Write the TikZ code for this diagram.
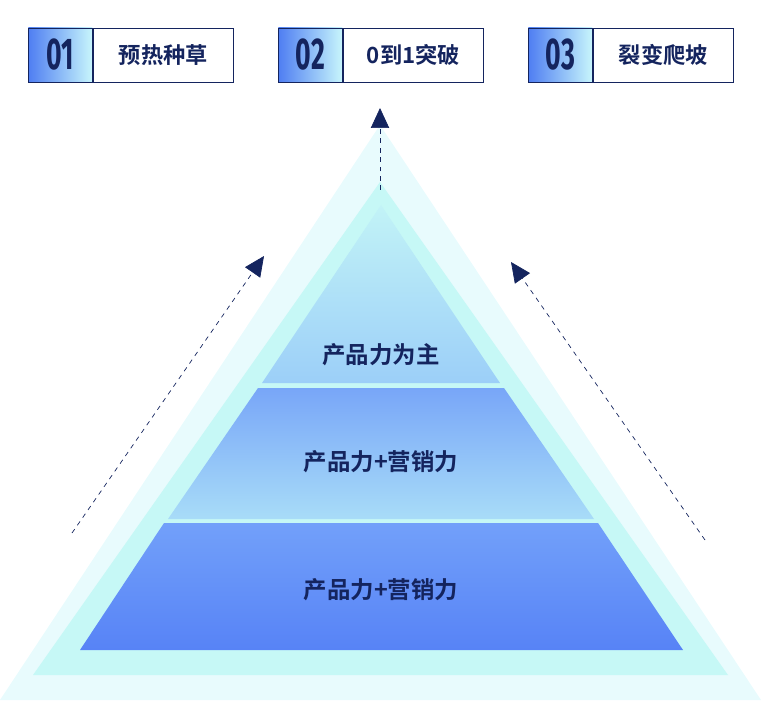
\documentclass[tikz,border=0pt]{standalone}
\usepackage{fontspec}
\newfontfamily\cjk{Noto Sans CJK SC}[BoldFont={Noto Sans CJK SC Bold}]
\newfontfamily\numfont{Fira Sans}
\usetikzlibrary{arrows.meta}
\definecolor{navy}{HTML}{14245E}
\definecolor{outerc}{HTML}{E8FBFD}
\definecolor{midc}{HTML}{C6F8F6}
\definecolor{lowtop}{HTML}{72A0FA}
\definecolor{lowbot}{HTML}{5783F6}
\definecolor{midtop}{HTML}{78A6F8}
\definecolor{midbot}{HTML}{A8DCF8}
\definecolor{toptop}{HTML}{C2F3F7}
\definecolor{topbot}{HTML}{9CCFF8}
\definecolor{numl}{HTML}{4F7EF2}
\definecolor{numr}{HTML}{C8F6FC}
\tikzset{
  numbox/.style={rectangle, draw=navy, line width=0.8pt, minimum height=1.62cm, minimum width=1.92cm, anchor=west, inner sep=0, left color=numl, right color=numr},
  namebox/.style={rectangle, draw=navy, line width=0.8pt, fill=white, minimum height=1.62cm, minimum width=4.2cm, anchor=west, inner sep=0},
  lvl/.style={font=\cjk\bfseries\fontsize{20}{22}\selectfont, text=navy},
  climb/.style={draw=navy, dashed, dash pattern=on 4pt off 4pt, line width=0.6pt, -{Triangle[length=0.6cm,width=0.55cm]}}
}
\begin{document}
\begin{tikzpicture}[x=0.03cm,y=-0.03cm]
    \useasboundingbox (0,0) rectangle (761,711);
    % pyramid layers
    \fill[outerc] (380,125) -- (761,700) -- (0,700) -- cycle;
    \fill[midc] (380,182) -- (728,675) -- (33,675) -- cycle;
    \shade[top color=toptop, bottom color=topbot] (381,205) -- (500,383) -- (262,383) -- cycle;
    \shade[top color=midtop, bottom color=midbot] (258,388) -- (504,388) -- (594,519) -- (168,519) -- cycle;
    \shade[top color=lowtop, bottom color=lowbot] (164,523) -- (598,523) -- (683,650) -- (80,650) -- cycle;
    \draw
    (381,355)node[lvl](top){产品力为主}
    (381,462)node[lvl](mid){产品力+营销力}
    (381,590)node[lvl](low){产品力+营销力}
    ;
    % headers
    \draw
    (28,55)node[numbox](n1){\numfont\bfseries\fontsize{38}{38}\selectfont\color{navy}\scalebox{0.6}[1]{01}}
    (n1.east)node[namebox](t1){\cjk\bfseries\fontsize{19}{22}\selectfont\color{navy}预热种草}
    (278,55)node[numbox](n2){\numfont\bfseries\fontsize{38}{38}\selectfont\color{navy}\scalebox{0.6}[1]{02}}
    (n2.east)node[namebox](t2){\cjk\bfseries\fontsize{19}{22}\selectfont\color{navy}0到1突破}
    (528,55)node[numbox](n3){\numfont\bfseries\fontsize{38}{38}\selectfont\color{navy}\scalebox{0.6}[1]{03}}
    (n3.east)node[namebox](t3){\cjk\bfseries\fontsize{19}{22}\selectfont\color{navy}裂变爬坡}
    ;
    % arrows
    \coordinate (c0) at (380,190);
    \coordinate (c1) at (380,108);
    \coordinate (l0) at (72,533);
    \coordinate (l1) at (264,256);
    \coordinate (r0) at (705,540);
    \coordinate (r1) at (511,262);
    \draw[climb] (c0) -- (c1);
    \draw[climb] (l0) -- (l1);
    \draw[climb] (r0) -- (r1);
\end{tikzpicture}
\end{document}
